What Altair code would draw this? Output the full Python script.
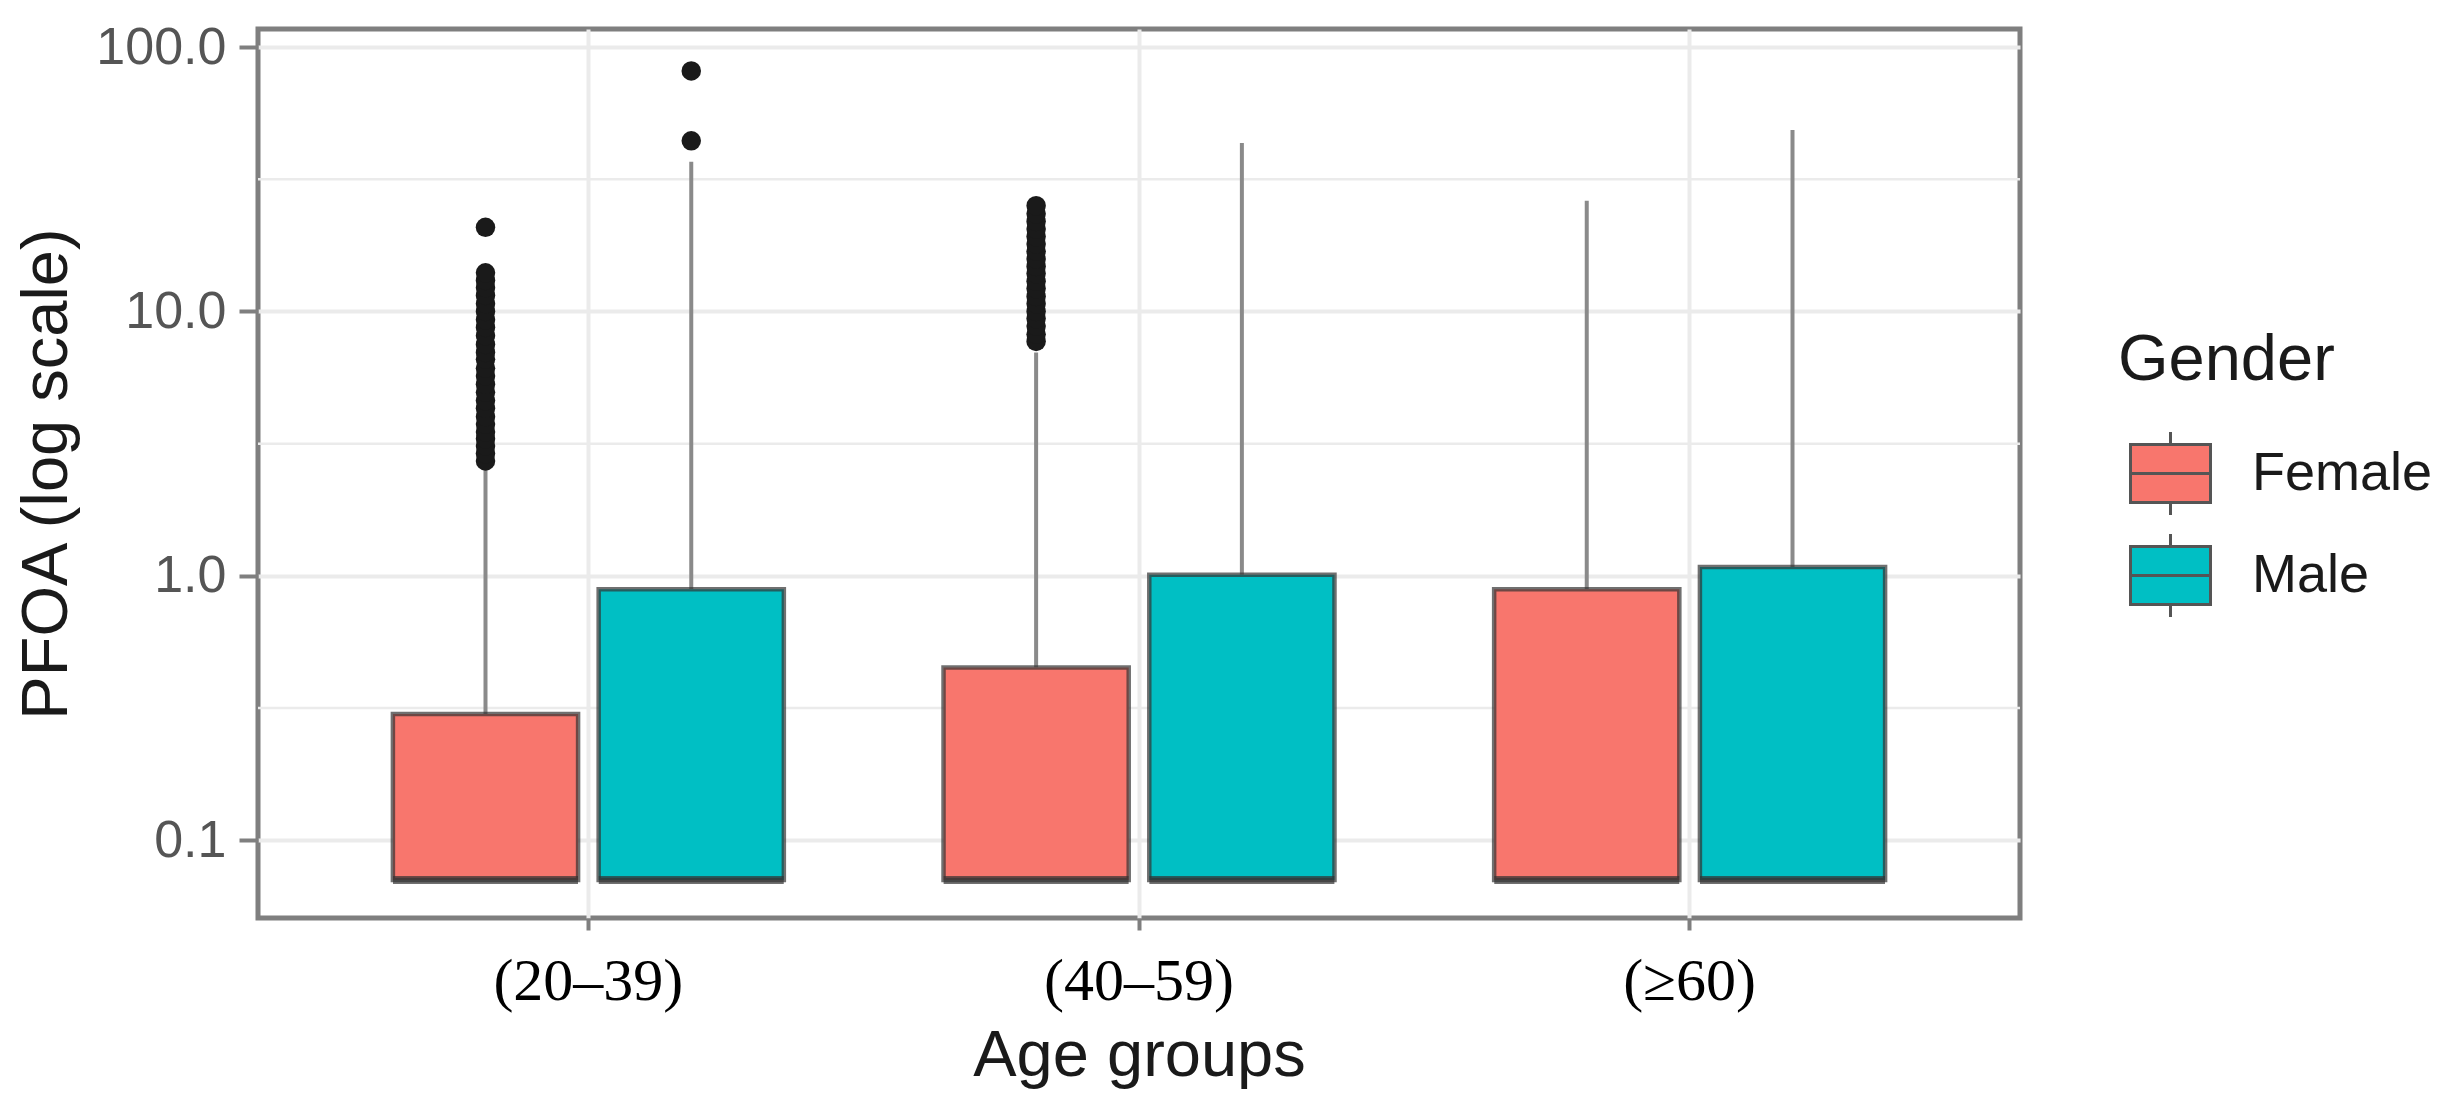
import altair as alt
import pandas as pd

# ---------------- data ----------------
age_groups = ["(20–39)", "(40–59)", "(≥60)"]
genders = ["Female", "Male"]

box_age = ["(20–39)", "(20–39)", "(40–59)", "(40–59)", "(≥60)", "(≥60)"]
box_gender = ["Female", "Male", "Female", "Male", "Female", "Male"]
whisker_low = [0.0707, 0.0707, 0.0707, 0.0707, 0.0707, 0.0707]
q1 = [0.0707, 0.0707, 0.0707, 0.0707, 0.0707, 0.0707]
median = [0.0707, 0.0707, 0.0707, 0.0707, 0.0707, 0.0707]
q3 = [0.30, 0.89, 0.45, 1.01, 0.89, 1.08]
whisker_high = [2.55, 36.8, 7.0, 43.4, 26.2, 48.6]

out_female_2039 = [2.72, 2.9, 3.1, 3.3, 3.5, 3.75, 4.0, 4.3, 4.6, 4.95, 5.3, 5.7,
                   6.1, 6.6, 7.0, 7.5, 8.1, 8.7, 9.3, 10.0, 10.7, 11.5, 12.3,
                   13.1, 14.0, 20.8]
out_male_2039 = [44.2, 81.2]
out_female_4059 = [7.7, 8.2, 8.8, 9.4, 10.0, 10.7, 11.4, 12.2, 13.0, 13.9, 14.8,
                   15.8, 16.9, 18.0, 19.2, 20.5, 21.9, 23.4, 25.1]

major_breaks = [0.1, 1, 10, 100]
minor_breaks = [0.316, 3.16, 31.6]
y_domain = [0.0508, 117]

female_color = "#F8766D"
male_color = "#00BFC4"

# ---------------- tables ----------------
boxes = pd.DataFrame({
    "age": box_age, "gender": box_gender,
    "lo": whisker_low, "q1": q1, "med": median, "q3": q3, "hi": whisker_high,
})

out_rows = ([("(20–39)", "Female", v) for v in out_female_2039]
            + [("(20–39)", "Male", v) for v in out_male_2039]
            + [("(40–59)", "Female", v) for v in out_female_4059])
outliers = pd.DataFrame(out_rows, columns=["age", "gender", "value"])
minor = pd.DataFrame({"v": minor_breaks})

# ---------------- encodings ----------------
x_enc = alt.X("age:N", sort=age_groups,
              scale=alt.Scale(domain=age_groups, paddingInner=0.29, paddingOuter=0.245),
              axis=alt.Axis(title="Age groups", labelAngle=0, grid=True))
xo_enc = alt.XOffset("gender:N", sort=genders,
                     scale=alt.Scale(domain=genders, paddingInner=0.1, paddingOuter=0))
y_scale = alt.Scale(type="log", domain=y_domain, nice=False)
y_axis = alt.Axis(title="PFOA (log scale)", values=major_breaks, format=".1f", grid=True)

minor_grid = alt.Chart(minor).mark_rule(color="#ebebeb", strokeWidth=2.5).encode(
    y=alt.Y("v:Q", scale=y_scale, axis=y_axis)
)

whisk_up = alt.Chart(boxes).mark_rule(color="#8a8a8a", strokeWidth=4).encode(
    x=x_enc, xOffset=xo_enc,
    y=alt.Y("q3:Q", scale=y_scale, axis=y_axis), y2="hi:Q"
)
whisk_dn = alt.Chart(boxes).mark_rule(color="#8a8a8a", strokeWidth=4).encode(
    x=x_enc, xOffset=xo_enc,
    y=alt.Y("lo:Q", scale=y_scale, axis=y_axis), y2="q1:Q"
)

bars = alt.Chart(boxes).mark_bar(
    stroke="#333333", strokeOpacity=0.7, strokeWidth=4.5
).encode(
    x=x_enc, xOffset=xo_enc,
    y=alt.Y("q1:Q", scale=y_scale, axis=y_axis), y2="q3:Q",
    color=alt.Color("gender:N", sort=genders,
                    scale=alt.Scale(domain=genders, range=[female_color, male_color]),
                    legend=alt.Legend(title="Gender")),
)

med = alt.Chart(boxes).mark_tick(color="#333333", thickness=8, size=185).encode(
    x=x_enc, xOffset=xo_enc,
    y=alt.Y("med:Q", scale=y_scale, axis=y_axis),
)

pts = alt.Chart(outliers).mark_circle(color="#1a1a1a", opacity=1, size=380).encode(
    x=x_enc, xOffset=xo_enc,
    y=alt.Y("value:Q", scale=y_scale, axis=y_axis),
)

legend_symbol = "M-1,-0.725H1V0.725H-1Z M-1,0H1 M0,-0.725V-1.04 M0,0.725V1.04"

chart = alt.layer(minor_grid, whisk_up, whisk_dn, bars, med, pts).properties(
    width=1762, height=889,
    autosize=alt.AutoSizeParams(type="none"),
    padding={"left": 250, "top": 21, "right": 419, "bottom": 190},
).configure_view(
    stroke="#7f7f7f", strokeWidth=5
).configure_axis(
    domain=False,
    gridColor="#ebebeb", gridWidth=4,
    tickColor="#7f7f7f", tickWidth=4,
    titleFont="Liberation Sans", titleFontWeight="normal", titleColor="#1a1a1a",
    titleFontSize=65, labelLimit=0,
).configure_axisY(
    labelFont="Liberation Sans", labelFontSize=52, labelColor="#555555",
    tickSize=19, labelPadding=13, titlePadding=15,
).configure_axisX(
    labelFont="Liberation Serif", labelFontSize=60, labelColor="#000000",
    tickSize=12, labelPadding=22, titlePadding=13,
).configure_legend(
    orient="none", legendX=1860, legendY=300, padding=0,
    titleFont="Liberation Sans", titleFontSize=65, titleFontWeight="normal",
    titleColor="#1a1a1a", titlePadding=38, titleLimit=0,
    labelFont="Liberation Sans", labelFontSize=54, labelColor="#1a1a1a",
    labelLimit=0,
    labelOffset=40, symbolOffset=11, rowPadding=5,
    symbolType=legend_symbol, symbolSize=6400, symbolStrokeWidth=3,
    symbolStrokeColor="#555555",
)

chart.save("out.html", embed_options={"renderer": "svg", "actions": False})
